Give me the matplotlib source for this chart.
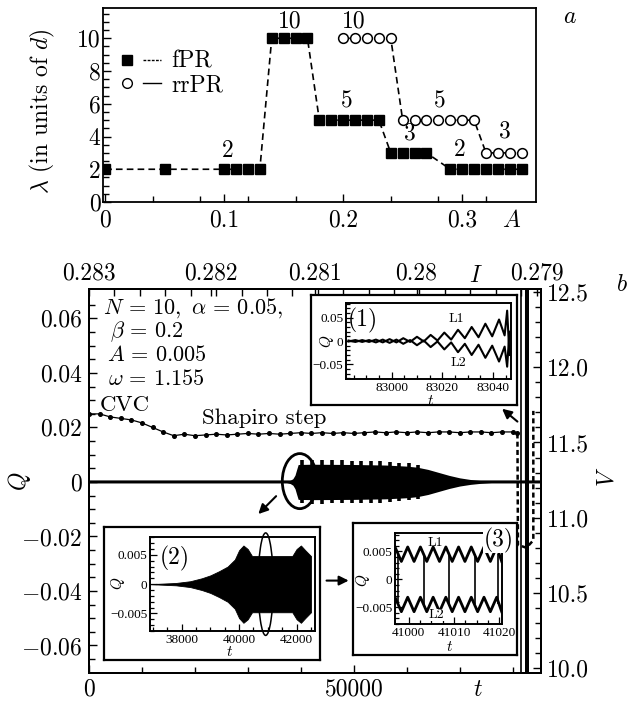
import numpy as np
import matplotlib
matplotlib.use("Agg")
import matplotlib.pyplot as plt
from matplotlib.patches import Ellipse
from matplotlib.lines import Line2D
from matplotlib.legend_handler import HandlerTuple

plt.rcParams["font.family"] = ["cmr10", "DejaVu Serif"]
plt.rcParams["mathtext.fontset"] = "cm"
plt.rcParams["axes.linewidth"] = 1.3

# -----------------------------
# Data: panel a
# -----------------------------
fpr_A = [0.00, 0.05, 0.10, 0.11, 0.12, 0.13, 0.14, 0.15, 0.16, 0.17,
         0.18, 0.19, 0.20, 0.21, 0.22, 0.23, 0.24, 0.25, 0.26, 0.27,
         0.29, 0.30, 0.31, 0.32, 0.33, 0.34, 0.35]
fpr_lam = [2, 2, 2, 2, 2, 2, 10, 10, 10, 10,
           5, 5, 5, 5, 5, 5, 3, 3, 3, 3,
           2, 2, 2, 2, 2, 2, 2]
rrpr_A = [0.20, 0.21, 0.22, 0.23, 0.24,
          0.25, 0.26, 0.27, 0.28, 0.29, 0.30, 0.31,
          0.32, 0.33, 0.34, 0.35]
rrpr_lam = [10, 10, 10, 10, 10,
            5, 5, 5, 5, 5, 5, 5,
            3, 3, 3, 3]
step_lab_A = [0.103, 0.155, 0.209, 0.203, 0.281, 0.256, 0.298, 0.336]
step_lab_lam = [3.1, 11.0, 11.0, 6.15, 6.15, 4.2, 3.2, 4.3]
step_lab_txt = ["2", "10", "10", "5", "5", "3", "2", "3"]

# -----------------------------
# Data: panel b (main)
# -----------------------------
cvc_t = [0, 2000, 4000, 6000, 8000, 10000, 12000, 14000, 16000, 18000,
         20000, 22000, 24000, 26000, 28000, 30000, 32000, 34000, 36000, 38000,
         40000, 42000, 44000, 46000, 48000, 50000, 52000, 54000, 56000, 58000,
         60000, 62000, 64000, 66000, 68000, 70000, 72000, 74000, 76000, 78000,
         80000, 80900]
cvc_v = [11.69, 11.69, 11.67, 11.66, 11.65, 11.63, 11.60, 11.57, 11.545, 11.555,
         11.545, 11.55, 11.555, 11.55, 11.555, 11.56, 11.555, 11.56, 11.555, 11.56,
         11.565, 11.56, 11.565, 11.56, 11.565, 11.56, 11.565, 11.57, 11.565, 11.57,
         11.565, 11.57, 11.565, 11.57, 11.57, 11.565, 11.57, 11.57, 11.565, 11.57,
         11.57, 11.56]
cvc_drop_t = [80900, 81000, 82600, 83900, 83900]
cvc_drop_v = [11.56, 10.82, 10.80, 10.85, 11.71]

q_t = [0, 82600, 82620, 82640, 82660, 82680, 82700, 82720, 82740, 82760,
       82780, 82800, 85500]
q_val = [0, 0, 0.1, -0.1, 0.1, -0.1, 0.1, -0.1, 0.1, -0.1,
         0.1, 0, 0]
q_thin_t = [81520, 81520]
q_thin_val = [-0.1, 0.1]

blob_t = [37300, 38000, 38500, 38900, 39200, 39500, 42000, 50000, 56000,
          60000, 62000, 64000, 66000, 68000, 70000, 72000, 74000, 76000]
blob_up = [0.0002, 0.0006, 0.0012, 0.0025, 0.0045, 0.0064, 0.0065, 0.0064, 0.0062,
           0.0058, 0.0054, 0.0046, 0.0035, 0.0024, 0.0015, 0.0009, 0.0005, 0.0002]
tooth_t = [40200, 42100, 44000, 45900, 47800, 49600, 51400, 53200, 55000,
           56800, 58600, 60400, 62200]
tooth_amp = [0.0079, 0.0080, 0.0080, 0.0079, 0.0079, 0.0078, 0.0078, 0.0077, 0.0076,
             0.0074, 0.0071, 0.0068, 0.0063]

i_tick_t = [0, 22970, 42630, 61850, 84600]
i_tick_lab = ["0.283", "0.282", "0.281", "0.28", "0.279"]

# -----------------------------
# Data: insets
# -----------------------------
t1 = [82983.0, 82985.7, 82988.4, 82991.1, 82993.8, 82996.5, 82999.2, 83001.9,
      83004.6, 83007.3, 83010.0, 83012.7, 83015.4, 83018.1, 83020.8, 83023.5,
      83026.2, 83028.9, 83031.6, 83034.3, 83037.0, 83039.7, 83042.4, 83044.6,
      83045.6, 83046.5]
l1_1 = [0.001, -0.002, 0.002, -0.002, 0.003, -0.003, 0.004, -0.003,
        0.006, -0.002, 0.009, -0.001, 0.013, 0.001, 0.018, 0.003,
        0.024, 0.006, 0.030, 0.008, 0.037, 0.010, 0.046, 0.012,
        0.065, -0.030]
l2_1 = [-0.001, 0.002, -0.002, 0.002, -0.003, 0.003, -0.004, 0.003,
        -0.006, 0.002, -0.009, 0.001, -0.013, -0.001, -0.018, -0.003,
        -0.024, -0.006, -0.030, -0.008, -0.036, -0.010, -0.044, -0.012,
        -0.055, 0.020]

t2 = [36900, 37800, 38300, 38700, 39000, 39300, 39600, 39850, 40000, 40150,
      40300, 40450, 41850, 42000, 42150, 42300, 42500]
env2 = [0.0, 0.0002, 0.0005, 0.001, 0.0015, 0.0022, 0.003, 0.0042, 0.0058, 0.0066,
        0.0060, 0.0048, 0.0048, 0.0060, 0.0066, 0.0058, 0.0048]

t3 = [40997.0, 40998.4, 40999.8, 41001.2, 41002.6, 41004.0, 41005.4, 41006.8,
      41008.2, 41009.6, 41011.0, 41012.4, 41013.8, 41015.2, 41016.6, 41018.0,
      41019.4, 41020.5]
l1_3 = [0.0058, 0.0032, 0.0058, 0.0032, 0.0058, 0.0032, 0.0058, 0.0032,
        0.0058, 0.0032, 0.0058, 0.0032, 0.0058, 0.0032, 0.0058, 0.0032,
        0.0058, 0.0032]
l2_3 = [-0.0032, -0.0058, -0.0032, -0.0058, -0.0032, -0.0058, -0.0032, -0.0058,
        -0.0032, -0.0058, -0.0032, -0.0058, -0.0032, -0.0058, -0.0032, -0.0058,
        -0.0032, -0.0058]
jump3_t = [40997.6, 41003.4, 41008.9, 41014.6, 41019.7]

W, H = 631, 702


def box(x0, y0, x1, y1):
    """pixel rectangle -> figure fraction rect"""
    return [x0 / W, 1 - y1 / H, (x1 - x0) / W, (y1 - y0) / H]


fig = plt.figure(figsize=(W / 100, H / 100), dpi=100)
fig.patch.set_facecolor("white")

# -----------------------------
# Panel a
# -----------------------------
axa = fig.add_axes(box(103.3, 8, 536, 202))
dash = (0, (4, 2.5))
axa.plot(fpr_A, fpr_lam, ls=dash, lw=1.2, color="k", marker="s", ms=7.3,
         mfc="k", mec="k")
axa.plot(rrpr_A, rrpr_lam, ls=dash, lw=1.2, color="k", marker="o", ms=7,
         mfc="white", mec="k", mew=1.1)
for a, l, s in zip(step_lab_A, step_lab_lam, step_lab_txt):
    axa.text(a, l, s, fontsize=17, ha="center", va="center")
axa.set_xlim(-0.0015, 0.362)
axa.set_ylim(0, 11.85)
axa.set_xticks([0, 0.1, 0.2, 0.3])
axa.set_xticklabels(["0", "0.1", "0.2", "0.3"])
axa.set_xticks([0.04, 0.08, 0.12, 0.16, 0.24, 0.28, 0.32], minor=True)
axa.set_yticks([0, 2, 4, 6, 8, 10])
axa.set_yticklabels(["0", "2", "4", "6", "8", "10"])
axa.set_yticks(np.arange(0, 11.6, 0.5), minor=True)
axa.tick_params(which="both", direction="in", labelsize=17, width=1)
axa.tick_params(which="major", length=6)
axa.tick_params(which="minor", length=4)
axa.tick_params(axis="x", pad=5)
axa.tick_params(axis="y", pad=2)
axa.set_ylabel(r"$\lambda$ (in units of $d$)", fontsize=17)
axa.yaxis.set_label_coords(-0.107, 0.47)
axa.text(0.944, -0.10, r"$A$", transform=axa.transAxes, fontsize=17,
         ha="center", va="center")
h_f = (Line2D([], [], marker="s", ls="none", color="k", ms=7.3),
       Line2D([], [], ls=(0, (2, 1)), lw=1, color="k"))
h_r = (Line2D([], [], marker="o", ls="none", mfc="white", mec="k", ms=7),
       Line2D([], [], ls="-", lw=1, color="k"))
axa.legend([h_f, h_r], ["fPR", "rrPR"], loc="upper left",
           bbox_to_anchor=(0.035, 0.78), frameon=False, fontsize=17,
           handler_map={tuple: HandlerTuple(ndivide=None, pad=0.3)},
           handlelength=1.8, handletextpad=0.45, labelspacing=0.05,
           borderpad=0, borderaxespad=0)
fig.text(570 / W, 1 - 17 / H, r"$a$", fontsize=17, ha="center", va="center")

# -----------------------------
# Panel b
# -----------------------------
ax = fig.add_axes(box(89, 289, 541, 672.7))
ax.plot(q_t, q_val, color="k", lw=2.2, zorder=3)
ax.plot(q_thin_t, q_thin_val, color="k", lw=1.2, zorder=3)
ax.fill_between(blob_t, blob_up, [-u for u in blob_up], color="k", lw=0, zorder=3)
ax.vlines(tooth_t, [-a for a in tooth_amp], tooth_amp, color="k", lw=2.6, zorder=3)
ax.add_patch(Ellipse((39800, 0.0003), 6600, 0.0202, fill=False, lw=2, ec="k", zorder=4))
ax.set_xlim(0, 85350)
ax.set_ylim(-0.070, 0.0708)
ax.set_xticks([0, 50000])
ax.set_xticklabels(["0", "50000"])
ax.set_xticks([10000, 20000, 30000, 40000, 60000, 70000, 80000], minor=True)
ax.set_yticks([-0.06, -0.04, -0.02, 0, 0.02, 0.04, 0.06])
ax.set_yticklabels([r"$-0.06$", r"$-0.04$", r"$-0.02$", "0", "0.02", "0.04", "0.06"])
ax.set_yticks(np.arange(-0.065, 0.07, 0.005), minor=True)
ax.tick_params(which="both", direction="in", labelsize=17, width=1, top=False)
ax.tick_params(which="major", length=6)
ax.tick_params(which="minor", length=4)
ax.tick_params(axis="x", pad=4)
ax.tick_params(axis="y", pad=5)
ax.text(-0.153, 0.50, r"$Q$", transform=ax.transAxes, fontsize=17,
        rotation=90, ha="center", va="center")
ax.text(0.861, -0.045, r"$t$", transform=ax.transAxes, fontsize=17,
        ha="center", va="center")

axv = ax.twinx()
axv.plot(cvc_t, cvc_v, color="k", lw=0.9, marker="o", ms=2.6)
axv.plot(cvc_drop_t, cvc_drop_v, color="k", lw=1.8, ls=(0, (2, 1.3)))
axv.set_ylim(9.97, 12.52)
axv.set_yticks([10.0, 10.5, 11.0, 11.5, 12.0, 12.5])
axv.set_yticklabels(["10.0", "10.5", "11.0", "11.5", "12.0", "12.5"])
axv.set_yticks(np.arange(10.0, 12.51, 0.1), minor=True)
axv.tick_params(which="both", direction="in", labelsize=17, width=1)
axv.tick_params(which="major", length=6, pad=4)
axv.tick_params(which="minor", length=4)
axv.text(1.146, 0.51, r"$V$", transform=axv.transAxes, fontsize=17,
         rotation=90, ha="center", va="center")

axt = ax.twiny()
axt.set_xlim(ax.get_xlim())
axt.set_xticks(i_tick_t)
axt.set_xticklabels(i_tick_lab)
axt.set_xticks(np.arange(4800, 85000, 4800), minor=True)
axt.tick_params(which="both", direction="in", labelsize=17, width=1, length=5, pad=3)
axt.text(0.856, 1.034, r"$I$", transform=axt.transAxes, fontsize=17,
         ha="center", va="center")

ax.text(0.031, 0.951, r"$N\,=\,10,\ \alpha\,=\,0.05,$", transform=ax.transAxes,
        fontsize=16, ha="left", va="center", zorder=6)
ax.text(0.046, 0.889, r"$\beta\,=\,0.2$", transform=ax.transAxes,
        fontsize=16, ha="left", va="center", zorder=6)
ax.text(0.039, 0.827, r"$A\,=\,0.005$", transform=ax.transAxes,
        fontsize=16, ha="left", va="center", zorder=6)
ax.text(0.042, 0.766, r"$\omega\,=\,1.155$", transform=ax.transAxes,
        fontsize=16, ha="left", va="center", zorder=6)
ax.text(0.024, 0.698, "CVC", transform=ax.transAxes,
        fontsize=16.5, ha="left", va="center", zorder=6)
ax.text(0.387, 0.662, "Shapiro step", transform=ax.transAxes,
        fontsize=16.5, ha="center", va="center", zorder=6)

arrow = dict(arrowstyle="-|>", lw=1.5, color="k", mutation_scale=14)
ax.annotate("", xy=(31600, -0.0125), xytext=(35700, -0.0045), arrowprops=arrow, zorder=6)
ax.annotate("", xy=(49560, -0.0362), xytext=(44330, -0.0362), arrowprops=arrow, zorder=6)
ax.annotate("", xy=(77600, 0.0275), xytext=(81300, 0.0215), arrowprops=arrow, zorder=6)
fig.text(621.7 / W, 1 - 285 / H, r"$b$", fontsize=17, ha="center", va="center")

# -----------------------------
# Insets
# -----------------------------
small = dict(fontfamily="Liberation Serif", fontsize=9.5)


def frame(rect):
    f = fig.add_axes(rect, zorder=5)
    f.set_xticks([])
    f.set_yticks([])
    for s in f.spines.values():
        s.set_linewidth(1.6)
    return f


def inset(rect):
    a = fig.add_axes(rect, zorder=6)
    a.tick_params(which="both", direction="in", width=0.9, labelsize=9.5, pad=2)
    a.tick_params(which="major", length=5)
    a.tick_params(which="minor", length=3)
    for s in a.spines.values():
        s.set_linewidth(1.4)
    return a


# inset (1)
frame(box(311, 295, 517, 405))
ax1 = inset(box(346, 302.7, 510.7, 379.3))
ax1.plot(t1, l1_1, color="k", lw=1.5)
ax1.plot(t1, l2_1, color="k", lw=1.5)
ax1.set_xlim(82982, 83047)
ax1.set_ylim(-0.082, 0.082)
ax1.set_xticks([83000, 83020, 83040])
ax1.set_xticklabels(["83000", "83020", "83040"], **small)
ax1.set_xticks(np.arange(82985, 83046, 5), minor=True)
ax1.set_yticks([-0.05, 0, 0.05])
ax1.set_yticklabels(["\u22120.05", "0", "0.05"], **small)
ax1.set_yticks(np.arange(-0.08, 0.081, 0.01), minor=True)
fig.text(363 / W, 1 - 320 / H, "(1)", fontsize=17, ha="center", va="center", zorder=7)
fig.text(456.7 / W, 1 - 319.3 / H, "L1", fontsize=10, ha="center", va="center", zorder=7)
fig.text(458 / W, 1 - 363.3 / H, "L2", fontsize=10, ha="center", va="center", zorder=7)
fig.text(327 / W, 1 - 341 / H, r"$Q$", fontsize=11, rotation=90, ha="center",
         va="center", zorder=7)
fig.text(431 / W, 1 - 401 / H, r"$t$", fontsize=11, ha="center", va="center", zorder=7)

# inset (2)
frame(box(104, 526.7, 320, 660))
ax2 = inset(box(150, 537.3, 315, 631))
ax2.fill_between(t2, env2, [-e for e in env2], color="k", lw=0.6)
ax2.add_patch(Ellipse((40924, 0.0), 520, 0.0175, fill=False, lw=1.1, ec="k",
                      clip_on=False))
ax2.set_xlim(36900, 42640)
ax2.set_ylim(-0.008, 0.008)
ax2.set_xticks([38000, 40000, 42000])
ax2.set_xticklabels(["38000", "40000", "42000"], **small)
ax2.set_xticks(np.arange(37000, 42600, 500), minor=True)
ax2.set_yticks([-0.005, 0, 0.005])
ax2.set_yticklabels(["\u22120.005", "0", "0.005"], **small)
ax2.set_yticks(np.arange(-0.008, 0.0081, 0.001), minor=True)
fig.text(175 / W, 1 - 558.3 / H, "(2)", fontsize=17, ha="center", va="center", zorder=7)
fig.text(118.3 / W, 1 - 583.3 / H, r"$Q$", fontsize=11, rotation=90, ha="center",
         va="center", zorder=7)
fig.text(229.3 / W, 1 - 651.7 / H, r"$t$", fontsize=11, ha="center", va="center", zorder=7)

# inset (3)
frame(box(352.7, 522.7, 517.3, 655))
ax3 = inset(box(395, 533, 501.7, 624))
ax3.plot(t3, l1_3, color="k", lw=2)
ax3.plot(t3, l2_3, color="k", lw=2)
ax3.vlines(jump3_t, -0.0045, 0.0045, color="k", lw=1.2)
ax3.set_xlim(40997, 41020.5)
ax3.set_ylim(-0.008, 0.0083)
ax3.set_xticks([41000, 41010, 41020])
ax3.set_xticklabels(["41000", "41010", "41020"], **small)
ax3.set_xticks(np.arange(41002.5, 41020, 2.5), minor=True)
ax3.set_yticks([-0.005, 0, 0.005])
ax3.set_yticklabels(["\u22120.005", "0", "0.005"], **small)
ax3.set_yticks(np.arange(-0.008, 0.0081, 0.001), minor=True)
fig.text(498.3 / W, 1 - 540 / H, "(3)", fontsize=17, ha="center", va="center",
         zorder=8, bbox=dict(fc="white", ec="none", pad=0.5))
fig.text(435 / W, 1 - 543.3 / H, "L1", fontsize=10, ha="center", va="center", zorder=7)
fig.text(436.7 / W, 1 - 615 / H, "L2", fontsize=10, ha="center", va="center", zorder=7,
         bbox=dict(fc="white", ec="none", pad=0.2))
fig.text(363.3 / W, 1 - 580 / H, r"$Q$", fontsize=11, rotation=90, ha="center",
         va="center", zorder=7)
fig.text(450 / W, 1 - 646.7 / H, r"$t$", fontsize=11, ha="center", va="center", zorder=7)

fig.savefig("out.png", dpi=100, facecolor="white")
